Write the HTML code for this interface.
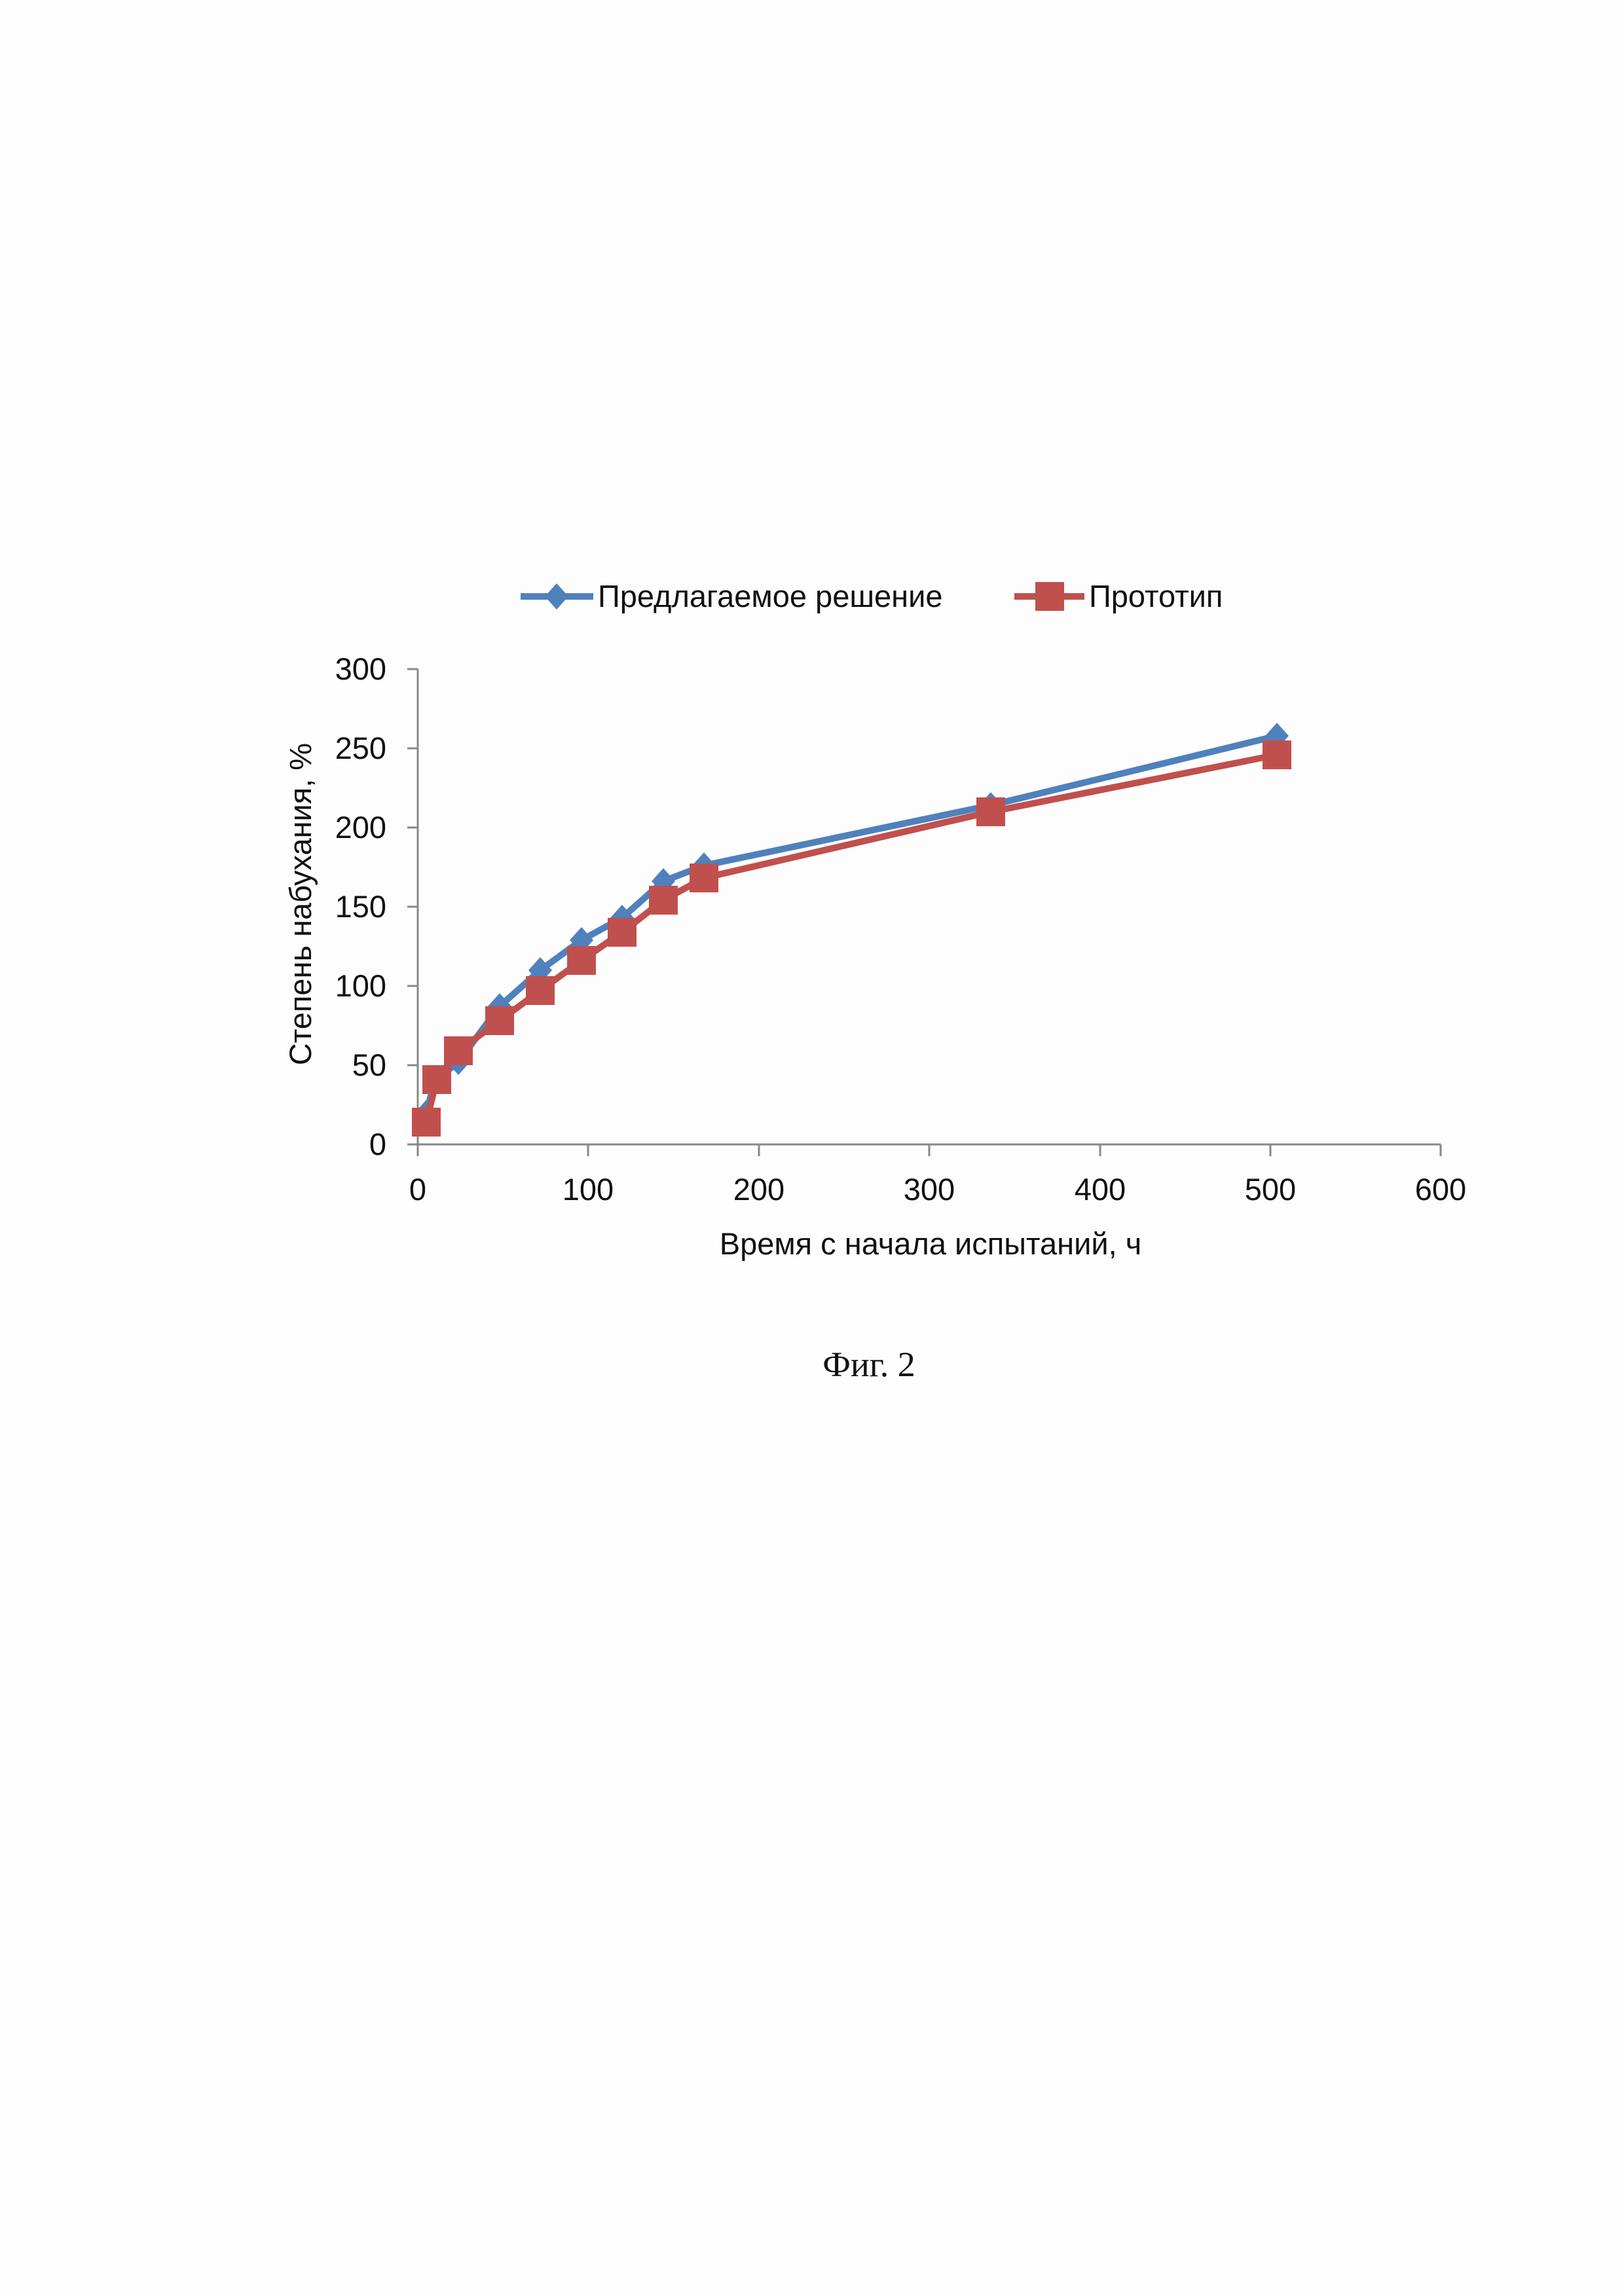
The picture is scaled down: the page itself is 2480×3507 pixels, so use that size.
<!DOCTYPE html>
<html><head><meta charset="utf-8"><style>
html,body{margin:0;padding:0;background:#fdfdfd;}
svg{display:block}
</style></head><body>
<svg width="2480" height="3507" xmlns="http://www.w3.org/2000/svg" font-family="Liberation Sans, DejaVu Sans, sans-serif">
<rect width="2480" height="3507" fill="#fdfdfd"/>
<!-- legend -->
<line x1="795" y1="911" x2="906" y2="911" stroke="#4f81bd" stroke-width="10"/>
<polygon points="850,891 868,911 850,931 832,911" fill="#4f81bd"/>
<text x="913" y="927" font-size="47" fill="#111">Предлагаемое решение</text>
<line x1="1549" y1="911" x2="1656" y2="911" stroke="#c0504d" stroke-width="10"/>
<rect x="1581" y="889" width="44" height="44" fill="#c0504d"/>
<text x="1663" y="927" font-size="47" fill="#111">Прототип</text>
<!-- axes -->
<g stroke="#888" stroke-width="3">
<line x1="638" y1="1022" x2="638" y2="1766"/>
<line x1="622" y1="1748" x2="2200" y2="1748"/>
<line x1="622" y1="1022" x2="638" y2="1022"/>
<line x1="622" y1="1143" x2="638" y2="1143"/>
<line x1="622" y1="1264" x2="638" y2="1264"/>
<line x1="622" y1="1385" x2="638" y2="1385"/>
<line x1="622" y1="1506" x2="638" y2="1506"/>
<line x1="622" y1="1627" x2="638" y2="1627"/>
<line x1="898" y1="1748" x2="898" y2="1766"/>
<line x1="1159" y1="1748" x2="1159" y2="1766"/>
<line x1="1419" y1="1748" x2="1419" y2="1766"/>
<line x1="1680" y1="1748" x2="1680" y2="1766"/>
<line x1="1940" y1="1748" x2="1940" y2="1766"/>
<line x1="2200" y1="1748" x2="2200" y2="1766"/>
</g>
<g font-size="47" fill="#111" text-anchor="end">
<text x="590" y="1038">300</text><text x="590" y="1159">250</text><text x="590" y="1280">200</text>
<text x="590" y="1401">150</text><text x="590" y="1522">100</text><text x="590" y="1643">50</text><text x="590" y="1764">0</text>
</g>
<g font-size="47" fill="#111" text-anchor="middle">
<text x="638" y="1833">0</text><text x="898" y="1833">100</text><text x="1159" y="1833">200</text>
<text x="1419" y="1833">300</text><text x="1680" y="1833">400</text><text x="1940" y="1833">500</text><text x="2200" y="1833">600</text>
<text x="1421" y="1916">Время с начала испытаний, ч</text>
</g>
<text transform="translate(475,1381) rotate(-90)" font-size="47" fill="#111" text-anchor="middle">Степень набухания, %</text>
<text x="1327" y="2102" font-size="54" font-family="Liberation Serif, serif" fill="#111" text-anchor="middle">Фиг. 2</text>
<!-- blue series -->
<polyline fill="none" stroke="#4f81bd" stroke-width="10" stroke-linejoin="round" points="651,1700 664,1651 700,1622 763,1537 825,1482 888,1436 950,1402 1013,1346 1075,1322 1513,1230 1950,1124"/>
<g fill="#4f81bd">
<polygon points="651,1680 669,1700 651,1720 633,1700"/>
<polygon points="700,1602 718,1622 700,1642 682,1622"/>
<polygon points="763,1517 781,1537 763,1557 745,1537"/>
<polygon points="825,1462 843,1482 825,1502 807,1482"/>
<polygon points="888,1416 906,1436 888,1456 870,1436"/>
<polygon points="950,1382 968,1402 950,1422 932,1402"/>
<polygon points="1013,1326 1031,1346 1013,1366 995,1346"/>
<polygon points="1075,1302 1093,1322 1075,1342 1057,1322"/>
<polygon points="1513,1210 1531,1230 1513,1250 1495,1230"/>
<polygon points="1950,1104 1968,1124 1950,1144 1932,1124"/>
</g>
<!-- red series -->
<polyline fill="none" stroke="#c0504d" stroke-width="10" stroke-linejoin="round" points="651,1714 667,1649 700,1605 763,1559 825,1513 888,1467 950,1424 1013,1375 1075,1341 1513,1240 1950,1153"/>
<g fill="#c0504d">
<rect x="629" y="1692" width="44" height="44"/>
<rect x="645" y="1627" width="44" height="44"/>
<rect x="678" y="1583" width="44" height="44"/>
<rect x="741" y="1537" width="44" height="44"/>
<rect x="803" y="1491" width="44" height="44"/>
<rect x="866" y="1445" width="44" height="44"/>
<rect x="928" y="1402" width="44" height="44"/>
<rect x="991" y="1353" width="44" height="44"/>
<rect x="1053" y="1319" width="44" height="44"/>
<rect x="1491" y="1218" width="44" height="44"/>
<rect x="1928" y="1131" width="44" height="44"/>
</g>
</svg>
</body></html>
